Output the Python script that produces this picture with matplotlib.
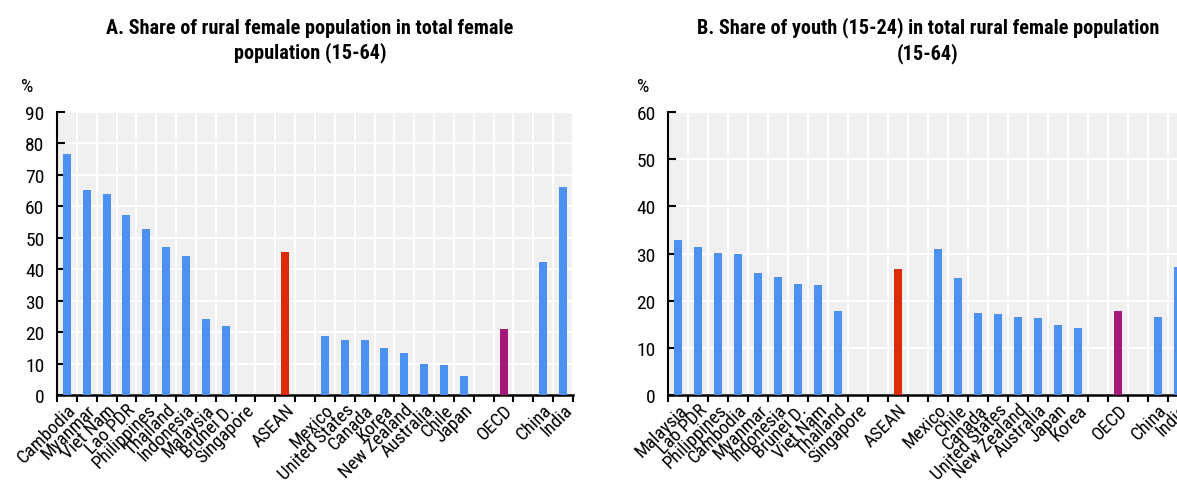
import matplotlib
matplotlib.use("Agg")
import matplotlib.pyplot as plt
from matplotlib import font_manager as fm
import numpy as np

# the original uses a narrow Arial; take a narrow face if one is installed
installed = {f.name for f in fm.fontManager.ttflist}
NARROW = None
for cand in ['Liberation Sans Narrow', 'Arial Narrow', 'Roboto Condensed', 'Open Sans Condensed']:
    if cand in installed:
        NARROW = cand
        break

if NARROW:
    plt.rcParams['font.family'] = [NARROW, 'Liberation Sans', 'DejaVu Sans']
    TITLE_FS, YTICK_FS, XLAB_FS = 14.6, 14, 13.5
else:
    plt.rcParams['font.family'] = ['Liberation Sans', 'DejaVu Sans']
    TITLE_FS, YTICK_FS, XLAB_FS = 12, 12.5, 12

BLUE = "#4A91F2"
RED = "#DB2C05"
PURPLE = "#A6177A"
BG = "#F0F0F0"

# Panel A: share of rural female population in total female population (15-64)
a_labels = ["Cambodia", "Myanmar", "Viet Nam", "Lao PDR", "Philippines", "Thailand",
            "Indonesia", "Malaysia", "Brunei D.", "Singapore", "", "ASEAN", "",
            "Mexico", "United States", "Canada", "Korea", "New Zealand", "Australia",
            "Chile", "Japan", "", "OECD", "", "China", "India"]
a_values = [76.5, 65.1, 63.8, 57.4, 52.8, 47.1, 44.2, 24.3, 21.8, np.nan, np.nan, 45.5, np.nan,
            18.9, 17.5, 17.5, 15.0, 13.2, 10.0, 9.5, 6.1, np.nan, 20.9, np.nan, 42.3, 66.0]

# Panel B: share of youth (15-24) in total rural female population (15-64)
b_labels = ["Malaysia", "Lao PDR", "Philippines", "Cambodia", "Myanmar", "Indonesia",
            "Brunei D.", "Viet Nam", "Thailand", "Singapore", "", "ASEAN", "",
            "Mexico", "Chile", "Canada", "United States", "New Zealand", "Australia",
            "Japan", "Korea", "", "OECD", "", "China", "India"]
b_values = [32.9, 31.4, 30.1, 29.9, 25.8, 25.1, 23.5, 23.3, 17.8, np.nan, np.nan, 26.7, np.nan,
            30.9, 24.8, 17.3, 17.1, 16.5, 16.3, 14.9, 14.2, np.nan, 17.8, np.nan, 16.6, 27.2]


def bar_colors(labels):
    cols = []
    for lab in labels:
        if lab == "ASEAN":
            cols.append(RED)
        elif lab == "OECD":
            cols.append(PURPLE)
        else:
            cols.append(BLUE)
    return cols


def draw_panel(ax, labels, values, ymax, title, title_x):
    x = np.arange(len(labels))
    ax.set_facecolor(BG)
    ax.bar(x, values, 0.4, color=bar_colors(labels), zorder=3)
    ax.set_xlim(-0.5, len(labels) - 0.5)
    ax.set_ylim(0, ymax)
    ax.set_yticks(np.arange(0, ymax + 1, 10))
    ax.set_xticks(x)
    ax.set_xticklabels(labels, rotation=45, ha='right', va='top',
                       rotation_mode='anchor', fontsize=XLAB_FS)
    ax.tick_params(axis='x', length=0, pad=4)
    ax.set_xticks(np.arange(-0.5, len(labels), 1), minor=True)
    ax.tick_params(axis='x', which='minor', length=5, width=1.5, direction='out')
    ax.tick_params(axis='y', direction='in', length=6, width=1.5, labelsize=YTICK_FS, pad=9)
    ax.grid(True, which='minor', axis='x', color='white', linewidth=1.5, zorder=0)
    ax.grid(True, which='major', axis='y', color='white', linewidth=1.5, zorder=0)
    for s in ['top', 'right']:
        ax.spines[s].set_visible(False)
    ax.spines['left'].set_linewidth(1.5)
    ax.spines['bottom'].set_linewidth(1.8)
    ax.set_axisbelow(True)
    fig.text(title_x, 0.915, title, ha='center', va='center', fontsize=TITLE_FS,
             fontweight='bold', linespacing=1.3)


fig = plt.figure(figsize=(11.77, 4.81), dpi=100)
ax1 = fig.add_axes([57 / 1177, 1 - 396 / 481, 516 / 1177, 283 / 481])
ax2 = fig.add_axes([668 / 1177, 1 - 396 / 481, 520 / 1177, 283 / 481])

draw_panel(ax1, a_labels, a_values, 90,
           "A. Share of rural female population in total female\npopulation (15-64)", 310 / 1177)
draw_panel(ax2, b_labels, b_values, 60,
           "B. Share of youth (15-24) in total rural female population\n(15-64)", 928 / 1177)

fig.text(27 / 1177, 1 - 87 / 481, "%", ha='center', va='center', fontsize=YTICK_FS)
fig.text(643 / 1177, 1 - 87 / 481, "%", ha='center', va='center', fontsize=YTICK_FS)

fig.savefig("out.png", dpi=100)
